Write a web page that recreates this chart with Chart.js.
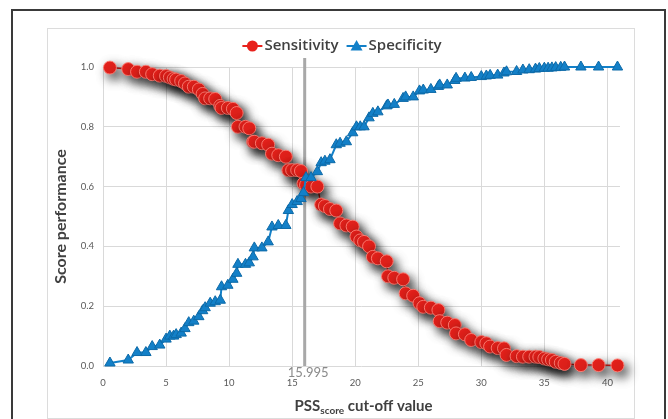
<!DOCTYPE html>
<html>
<head>
<meta charset="utf-8">
<title>PSS score cut-off</title>
<script src="https://cdn.jsdelivr.net/npm/chart.js@4.4.1/dist/chart.umd.min.js"></script>
<style>
  html, body { margin: 0; padding: 0; background: #fff; }
  #wrap { width: 668px; height: 419px; position: relative; }
</style>
</head>
<body>
<div id="wrap"><canvas id="rocChart" width="668" height="419"></canvas></div>
<script>
// Values
const cutoffs = [0.55, 2.0, 2.7, 3.4, 3.9, 4.5, 5.0, 5.3, 5.6, 5.8, 6.2, 6.5, 6.8, 7.2, 7.6, 7.9, 8.1, 8.5, 8.9, 9.3,
  9.4, 9.9, 10.3, 10.6, 10.7, 11.3, 11.6, 11.9, 12.0, 12.6, 13.1, 13.4, 13.9, 14.5, 14.7, 15.0, 15.4, 15.7, 15.9, 16.1,
  16.5, 17.0, 17.3, 17.6, 18.0, 18.5, 18.8, 19.3, 19.8, 20.1, 20.4, 20.7, 21.1, 21.4, 21.8, 22.5, 22.6, 23.1, 23.8, 24.0,
  24.6, 25.1, 25.4, 26.0, 26.6, 26.7, 27.3, 27.9, 28.0, 28.7, 29.2, 30.0, 30.4, 30.7, 31.3, 31.8, 32.0, 32.8, 33.3, 33.8,
  34.3, 34.6, 35.0, 35.3, 35.6, 35.9, 36.3, 36.6, 37.9, 39.3, 40.8];
const sensitivity = [0.998, 0.993, 0.984, 0.984, 0.976, 0.971, 0.970, 0.965, 0.960, 0.958, 0.953, 0.945, 0.934, 0.934, 0.925, 0.910, 0.895, 0.895, 0.893, 0.870,
  0.863, 0.863, 0.860, 0.846, 0.800, 0.800, 0.795, 0.750, 0.750, 0.745, 0.740, 0.710, 0.705, 0.700, 0.655, 0.655, 0.655, 0.652, 0.610, 0.605,
  0.600, 0.600, 0.540, 0.535, 0.525, 0.520, 0.477, 0.470, 0.466, 0.433, 0.420, 0.415, 0.400, 0.365, 0.360, 0.350, 0.300, 0.295, 0.290, 0.243,
  0.235, 0.210, 0.198, 0.195, 0.187, 0.150, 0.145, 0.137, 0.109, 0.106, 0.087, 0.080, 0.076, 0.065, 0.060, 0.059, 0.037, 0.033, 0.031, 0.031,
  0.031, 0.030, 0.025, 0.022, 0.020, 0.014, 0.010, 0.007, 0.003, 0.003, 0.002];
const specificity = [0.010, 0.020, 0.045, 0.045, 0.065, 0.070, 0.090, 0.100, 0.100, 0.105, 0.110, 0.125, 0.145, 0.150, 0.165, 0.185, 0.195, 0.210, 0.215, 0.220,
  0.265, 0.270, 0.290, 0.310, 0.340, 0.340, 0.345, 0.365, 0.395, 0.395, 0.415, 0.465, 0.470, 0.470, 0.520, 0.540, 0.550, 0.560, 0.580, 0.630,
  0.630, 0.650, 0.680, 0.685, 0.690, 0.740, 0.745, 0.750, 0.780, 0.800, 0.800, 0.800, 0.830, 0.845, 0.850, 0.870, 0.873, 0.875, 0.895, 0.900,
  0.900, 0.920, 0.923, 0.925, 0.935, 0.940, 0.940, 0.955, 0.962, 0.963, 0.965, 0.968, 0.970, 0.972, 0.973, 0.980, 0.984, 0.985, 0.990, 0.991,
  0.993, 0.995, 0.996, 0.996, 0.997, 0.998, 0.999, 1.000, 1.000, 1.000, 1.000];
const xTicks = [0, 5, 10, 15, 20, 25, 30, 35, 40];
const optimalCutoff = 15.995;
const markerTop = 1.03;
const seriesNames = ['Sensitivity', 'Specificity'];

const RED = '#e8221c';
const BLUE = '#1380c8';
const FONT = 'Lato, "Open Sans", sans-serif';

const toPoints = ys => cutoffs.map((x, i) => ({ x: x, y: ys[i] }));

// Drop shadow under the sensitivity markers
const shadowPlugin = {
  id: 'shadow',
  beforeDatasetDraw(chart, args) {
    if (args.index !== 0) return;
    const ctx = chart.ctx;
    ctx.save();
    ctx.shadowColor = 'rgba(0,0,0,0.75)';
    ctx.shadowBlur = 11;
    ctx.shadowOffsetX = 4;
    ctx.shadowOffsetY = 5;
  },
  afterDatasetDraw(chart, args) {
    if (args.index !== 0) return;
    chart.ctx.restore();
  }
};

// Frames, legend, axis titles and the cut-off label
const decorPlugin = {
  id: 'decor',
  beforeDraw(chart) {
    const ctx = chart.ctx;
    ctx.save();
    ctx.fillStyle = '#fff';
    ctx.fillRect(0, 0, chart.width, chart.height);
    ctx.strokeStyle = '#3a3a3a';
    ctx.lineWidth = 2;
    ctx.strokeRect(12, 10, 653, 430);
    ctx.strokeStyle = '#dcdcdc';
    ctx.lineWidth = 1;
    ctx.strokeRect(47.5, 28.5, 587, 390);
    ctx.restore();
  },
  afterDraw(chart) {
    const ctx = chart.ctx;
    const xs = chart.scales.x;
    const ys = chart.scales.y;
    ctx.save();

    // legend
    ctx.font = '600 15px "Open Sans", sans-serif';
    ctx.textBaseline = 'middle';
    const w1 = ctx.measureText(seriesNames[0]).width;
    const w2 = ctx.measureText(seriesNames[1]).width;
    const sym = 22, gap = 8;
    const total = sym + w1 + gap + sym + w2;
    let lx = 342 - total / 2;
    const ly = 46;
    ctx.strokeStyle = RED; ctx.lineWidth = 2;
    ctx.beginPath(); ctx.moveTo(lx, ly); ctx.lineTo(lx + sym - 2, ly); ctx.stroke();
    ctx.fillStyle = RED;
    ctx.beginPath(); ctx.arc(lx + sym / 2 - 1, ly, 5.5, 0, Math.PI * 2); ctx.fill();
    ctx.fillStyle = '#404040';
    ctx.fillText(seriesNames[0], lx + sym, ly);
    lx += sym + w1 + gap;
    ctx.strokeStyle = BLUE;
    ctx.beginPath(); ctx.moveTo(lx, ly); ctx.lineTo(lx + sym - 2, ly); ctx.stroke();
    ctx.fillStyle = BLUE;
    const cx = lx + sym / 2 - 1;
    ctx.beginPath(); ctx.moveTo(cx, ly - 6); ctx.lineTo(cx + 6, ly + 4.5); ctx.lineTo(cx - 6, ly + 4.5); ctx.closePath(); ctx.fill();
    ctx.fillStyle = '#404040';
    ctx.fillText(seriesNames[1], lx + sym, ly);

    // cut-off label
    ctx.font = '13px ' + FONT;
    ctx.fillStyle = '#8a8a8a';
    ctx.textAlign = 'center';
    ctx.fillText(String(optimalCutoff), xs.getPixelForValue(optimalCutoff) + 3.5, 373);

    // x axis title with subscript
    ctx.fillStyle = '#404040';
    ctx.textAlign = 'left';
    ctx.textBaseline = 'alphabetic';
    const big = 'bold 15px ' + FONT, small = 'bold 10px ' + FONT;
    ctx.font = big; const a = ctx.measureText('PSS').width;
    ctx.font = small; const b = ctx.measureText('score').width;
    ctx.font = big; const c = ctx.measureText(' cut-off value').width;
    let tx = (xs.left + xs.right) / 2 + 2 - (a + b + c) / 2;
    const ty = 411;
    ctx.font = big; ctx.fillText('PSS', tx, ty); tx += a;
    ctx.font = small; ctx.fillText('score', tx, ty + 3); tx += b;
    ctx.font = big; ctx.fillText(' cut-off value', tx, ty);

    // y axis title
    ctx.translate(61, (ys.top + ys.bottom) / 2);
    ctx.rotate(-Math.PI / 2);
    ctx.textAlign = 'center';
    ctx.textBaseline = 'middle';
    ctx.font = 'bold 16px ' + FONT;
    ctx.fillText('Score performance', 0, 0);
    ctx.restore();
  }
};

const chart = new Chart(document.getElementById('rocChart'), {
  type: 'scatter',
  data: {
    datasets: [
      {
        label: seriesNames[0],
        data: toPoints(sensitivity),
        showLine: true,
        borderColor: RED,
        borderWidth: 1.5,
        backgroundColor: RED,
        pointStyle: 'circle',
        pointRadius: 6.5,
        pointBorderColor: 'rgba(255,130,120,0.9)',
        pointBorderWidth: 1,
        clip: false,
        order: 2
      },
      {
        label: seriesNames[1],
        data: toPoints(specificity),
        showLine: true,
        borderColor: BLUE,
        borderWidth: 2,
        backgroundColor: BLUE,
        pointStyle: 'triangle',
        pointRadius: 6,
        pointBorderColor: '#0d6aa8',
        pointBorderWidth: 1,
        clip: false,
        order: 1
      },
      {
        label: 'cut-off',
        data: [{ x: optimalCutoff, y: 0 }, { x: optimalCutoff, y: markerTop }],
        showLine: true,
        borderColor: '#a8a8a8',
        borderWidth: 3,
        pointRadius: 0,
        clip: false,
        order: 3
      }
    ]
  },
  options: {
    responsive: false,
    animation: false,
    layout: { padding: { left: 0, right: 48, top: 67, bottom: 0 } },
    plugins: {
      legend: { display: false },
      tooltip: { enabled: false }
    },
    scales: {
      x: {
        type: 'linear',
        min: 0,
        max: 41,
        border: { display: false },
        grid: { color: '#d9d9d9', lineWidth: 1, drawTicks: false },
        ticks: { padding: 11, color: '#595959', font: { family: FONT, size: 9.5 } },
        afterBuildTicks: s => { s.ticks = xTicks.map(v => ({ value: v })); },
        afterFit: s => { s.height = 53; }
      },
      y: {
        min: 0,
        max: 1,
        border: { display: false },
        grid: { color: '#d9d9d9', lineWidth: 1, drawTicks: false },
        ticks: {
          stepSize: 0.2,
          padding: 9,
          color: '#595959',
          font: { family: FONT, size: 9.5 },
          callback: v => v.toFixed(1)
        },
        afterFit: s => { s.width = 103; }
      }
    }
  },
  plugins: [shadowPlugin, decorPlugin]
});
</script>
</body>
</html>
